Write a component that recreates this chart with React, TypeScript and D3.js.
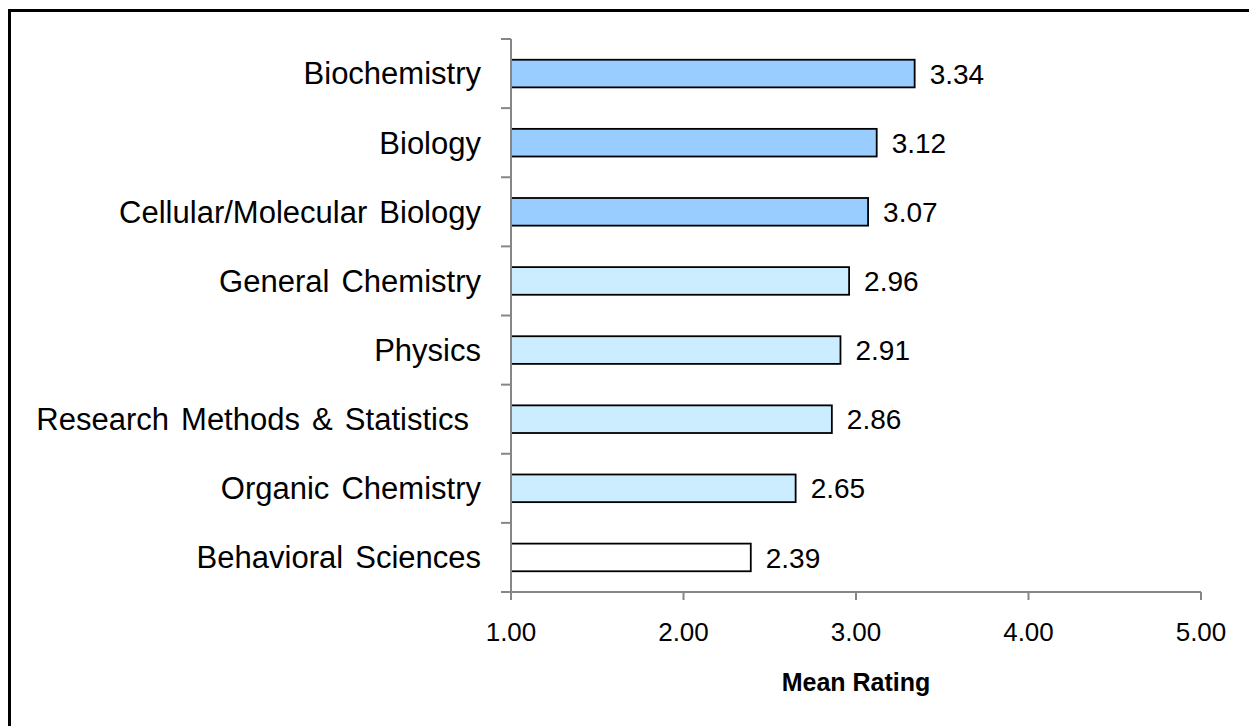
import React from "react";
import * as d3 from "d3";

const categories = [
  "Biochemistry",
  "Biology",
  "Cellular/Molecular Biology",
  "General Chemistry",
  "Physics",
  "Research Methods & Statistics ",
  "Organic Chemistry",
  "Behavioral Sciences",
];

const meanRatings = [3.34, 3.12, 3.07, 2.96, 2.91, 2.86, 2.65, 2.39];

// 0 = strong blue, 1 = light blue, 2 = none
const colorGroups = [0, 0, 0, 1, 1, 1, 1, 2];
const groupColors = ["#99CCFF", "#CCECFF", "#FFFFFF"];

const xTicks = [1, 2, 3, 4, 5];

const WIDTH = 1249;
const HEIGHT = 726;
const FONT = "'Liberation Sans', Arial, Helvetica, sans-serif";

export default function App() {
  const x = d3.scaleLinear().domain([1, 5]).range([511, 1201]);
  const y = d3.scaleBand<string>().domain(categories).range([39, 592]).padding(0);
  const barH = y.bandwidth() * 0.4;
  const axisColor = "#868686";
  const fmt = d3.format(".2f");

  const bands = [...categories.map((c) => y(c) as number), 592];

  return (
    <svg
      width={WIDTH}
      height={HEIGHT}
      style={{ position: "absolute", left: 0, top: 0, display: "block", background: "#fff" }}
      fontFamily={FONT}
    >
      {/* outer frame, only top and left visible */}
      <rect x={9.5} y={10.5} width={WIDTH + 20} height={HEIGHT + 20} fill="#fff" stroke="#000" strokeWidth={3} />

      {/* bars */}
      <g>
        {categories.map((c, i) => {
          const cy = (y(c) as number) + y.bandwidth() / 2;
          return (
            <rect
              key={c}
              x={x(1)}
              y={cy - barH / 2}
              width={x(meanRatings[i]) - x(1)}
              height={barH}
              fill={groupColors[colorGroups[i]]}
              stroke="#000"
              strokeWidth={1.8}
            />
          );
        })}
      </g>

      {/* y axis */}
      <g stroke={axisColor} strokeWidth={2}>
        <line x1={x(1)} x2={x(1)} y1={39} y2={600} />
        {bands.map((b, i) => (
          <line key={i} x1={501} x2={x(1)} y1={b} y2={b} />
        ))}
      </g>

      {/* x axis */}
      <g stroke={axisColor} strokeWidth={2}>
        <line x1={501} x2={x(5)} y1={592} y2={592} />
        {xTicks.map((t) => (
          <line key={t} x1={x(t)} x2={x(t)} y1={592} y2={600} />
        ))}
      </g>

      {/* category labels */}
      <g textAnchor="end" fontSize={31} fill="#000" wordSpacing={3.5}>
        {categories.map((c) => (
          <text
            key={c}
            x={481}
            y={(y(c) as number) + y.bandwidth() / 2}
            dy="0.35em"
            style={{ whiteSpace: "pre" }}
          >
            {c}
          </text>
        ))}
      </g>

      {/* value labels */}
      <g fontSize={28} fill="#000">
        {categories.map((c, i) => (
          <text
            key={c}
            x={x(meanRatings[i]) + 15}
            y={(y(c) as number) + y.bandwidth() / 2}
            dy="0.36em"
          >
            {fmt(meanRatings[i])}
          </text>
        ))}
      </g>

      {/* x tick labels */}
      <g textAnchor="middle" fontSize={26} fill="#000">
        {xTicks.map((t) => (
          <text key={t} x={x(t)} y={641}>
            {fmt(t)}
          </text>
        ))}
      </g>

      <text x={x(3)} y={691} textAnchor="middle" fontSize={25} fontWeight="bold" fill="#000">
        Mean Rating
      </text>
    </svg>
  );
}
